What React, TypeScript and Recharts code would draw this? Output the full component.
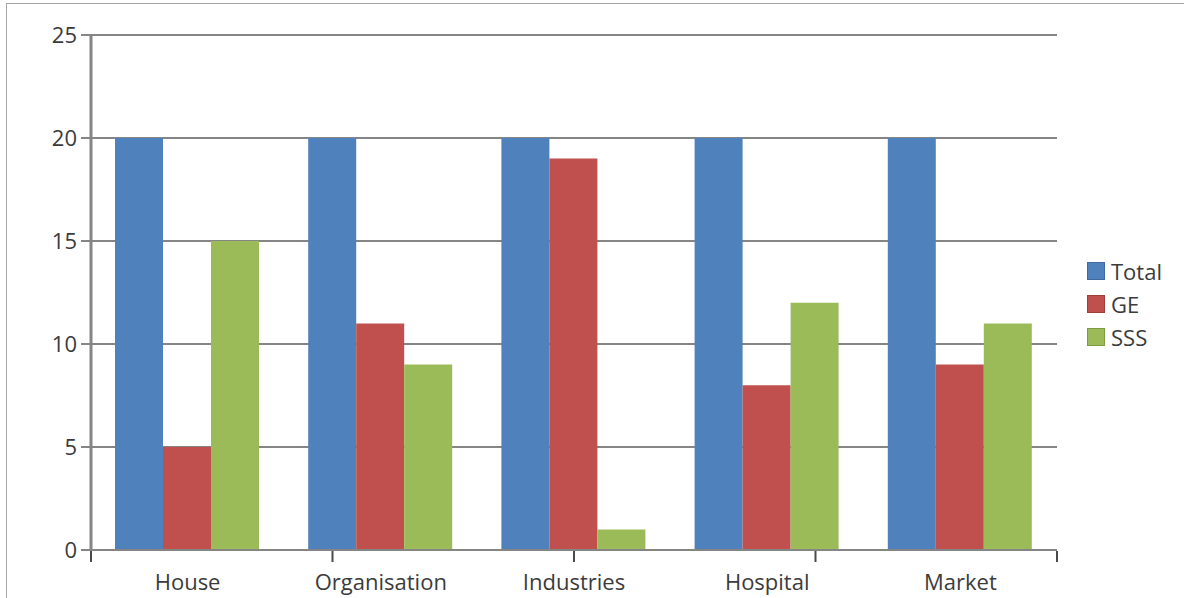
import { Bar, BarChart, CartesianGrid, Legend, ReferenceLine, XAxis, YAxis } from "recharts";

const categories = ["House", "Organisation", "Industries", "Hospital", "Market"];
const totalValues = [20, 20, 20, 20, 20];
const geValues = [5, 11, 19, 8, 9];
const sssValues = [15, 9, 1, 12, 11];
const yTicks = [0, 5, 10, 15, 20, 25];
const edgeTicks = [0, 1, 2, 3, 4, 5];

const series = [
  { key: "total", name: "Total", color: "#4f81bd", border: "#3f6a9f" },
  { key: "ge", name: "GE", color: "#c0504d", border: "#9e3d3a" },
  { key: "sss", name: "SSS", color: "#9bbb59", border: "#7f9c45" },
];

const data = categories.map((name, i) => ({
  name,
  total: totalValues[i],
  ge: geValues[i],
  sss: sssValues[i],
}));

const FONT = "'Open Sans', sans-serif";
const TEXT = "#3b3b3b";
const GRID = "#858585";

function SideLegend() {
  return (
    <div style={{ fontFamily: FONT, fontSize: 22, color: TEXT }}>
      {series.map((s) => (
        <div key={s.key} style={{ display: "flex", alignItems: "center", height: 33 }}>
          <span
            style={{
              width: 18,
              height: 18,
              background: s.color,
              border: `1px solid ${s.border}`,
              marginRight: 6,
              boxSizing: "border-box",
            }}
          />
          <span>{s.name}</span>
        </div>
      ))}
    </div>
  );
}

export default function App() {
  return (
    <div
      style={{
        position: "absolute",
        left: 0,
        top: 0,
        width: 1184,
        height: 598,
        background: "#fff",
        overflow: "hidden",
      }}
    >
      <div
        style={{
          position: "absolute",
          left: 6,
          top: 3,
          width: 1300,
          height: 700,
          borderTop: "1px solid #a6a6a6",
          borderLeft: "1px solid #a6a6a6",
        }}
      />
      <BarChart
        width={1184}
        height={598}
        data={data}
        margin={{ top: 35, right: 27, left: 31, bottom: 46 }}
        barCategoryGap={24}
        barGap={0}
        style={{ position: "absolute", left: 0, top: 0 }}
      >
        <CartesianGrid stroke={GRID} strokeWidth={2} vertical={false} />
        <XAxis
          dataKey="name"
          height={1}
          tickLine={false}
          tickSize={0}
          tickMargin={24}
          axisLine={{ stroke: GRID, strokeWidth: 2 }}
          tick={{ fill: TEXT, fontSize: 22, fontFamily: FONT }}
        />
        {/* tick marks on the category boundaries */}
        <XAxis
          xAxisId="edge"
          type="number"
          domain={[0, 5]}
          ticks={edgeTicks}
          height={1}
          tickFormatter={() => ""}
          tickSize={11}
          axisLine={false}
          tickLine={{ stroke: "#4a4a4a", strokeWidth: 2 }}
        />
        <YAxis
          domain={[0, 25]}
          ticks={yTicks}
          width={60}
          tickSize={10}
          tickMargin={4}
          axisLine={{ stroke: GRID, strokeWidth: 3 }}
          tickLine={{ stroke: GRID, strokeWidth: 2 }}
          tick={{ fill: TEXT, fontSize: 22, fontFamily: FONT }}
        />
        <ReferenceLine xAxisId="edge" x={5} stroke="#c4c4c4" strokeWidth={2} />
        <Legend
          layout="vertical"
          align="right"
          verticalAlign="middle"
          content={() => <SideLegend />}
          wrapperStyle={{ left: 1087, top: 254, width: 100 }}
        />
        {series.map((s) => (
          <Bar
            key={s.key}
            dataKey={s.key}
            name={s.name}
            fill={s.color}
            isAnimationActive={false}
          />
        ))}
      </BarChart>
    </div>
  );
}
